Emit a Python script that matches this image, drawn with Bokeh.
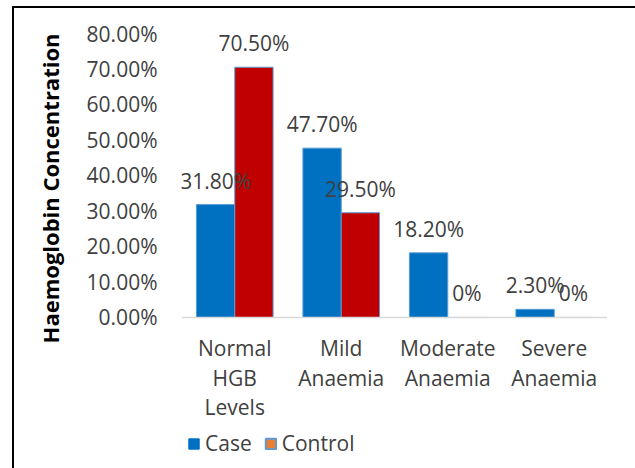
from bokeh.plotting import figure
from bokeh.models import (ColumnDataSource, FactorRange, LabelSet, Legend, LegendItem, Title,
                          FixedTicker, NumeralTickFormatter)
from bokeh.transform import dodge
from bokeh.core.properties import value
from bokeh.embed import file_html
from bokeh.resources import INLINE

categories = ["Normal\nHGB\nLevels", "Mild\nAnaemia", "Moderate\nAnaemia", "Severe\nAnaemia"]
case = [0.318, 0.477, 0.182, 0.023]
control = [0.705, 0.295, 0.0, 0.0]
y_ticks = [0.0, 0.1, 0.2, 0.3, 0.4, 0.5, 0.6, 0.7, 0.8]
y_title = "Haemoglobin Concentration"
series_names = ["Case", "Control"]

def fmt(v):
    return "0%" if v == 0 else f"{v*100:.2f}%"

split = [c.split("\n") for c in categories]
data = dict(cat=categories, case=case, control=control,
            base=[0.0] * len(categories),
            case_lbl=[fmt(v) for v in case],
            control_lbl=[fmt(v) for v in control])
for k in range(3):
    data[f"line{k}"] = [s[k] if k < len(s) else "" for s in split]
src = ColumnDataSource(data)

FONT = "Open Sans"
FS = "21px"
TXT = "#404040"

# frame spans 33..465 px; 0 sits at 317 px (35.5 px per 10%)
p = figure(width=635, height=468, x_range=FactorRange(*categories, range_padding=0),
           y_range=(-0.417, 0.8), output_backend="svg", toolbar_location=None,
           min_border_left=181, min_border_right=28, min_border_top=33, min_border_bottom=3)
p.border_fill_color = None
p.background_fill_color = None
p.styles = {"background": "linear-gradient(#000,#000) 12px 6px / 2px 100% no-repeat, "
                          "linear-gradient(#000,#000) 12px 6px / 100% 2px no-repeat, #fff"}
p.outline_line_color = None
p.xgrid.visible = False
p.ygrid.visible = False

W = 0.36
p.vbar(x=dodge("cat", -0.18, range=p.x_range), top="case", width=W, source=src,
       fill_color="#0070C0", line_color="#5B9BD5", line_width=1)
p.vbar(x=dodge("cat", 0.18, range=p.x_range), top="control", width=W, source=src,
       fill_color="#C00000", line_color="#5B9BD5", line_width=1)

for col, off in (("case_lbl", -0.18), ("control_lbl", 0.18)):
    ycol = "case" if col == "case_lbl" else "control"
    p.add_layout(LabelSet(x=dodge("cat", off, range=p.x_range), y=ycol, text=col, source=src,
                          y_offset=24, text_align="center", text_baseline="middle",
                          text_font=value(FONT), text_font_size=FS, text_color=TXT))

# y axis
ya = p.yaxis[0]
ya.ticker = FixedTicker(ticks=y_ticks)
ya.formatter = NumeralTickFormatter(format="0.00%")
ya.axis_line_color = None
ya.major_tick_line_color = None
ya.minor_tick_line_color = None
ya.major_tick_out = 0
ya.major_tick_in = 0
ya.major_label_standoff = 24
ya.major_label_text_font = FONT
ya.major_label_text_font_size = FS
ya.major_label_text_color = TXT

# x axis: line at 0, category names drawn as centred lines under it
xa = p.xaxis[0]
xa.fixed_location = 0
xa.axis_line_color = "#D9D9D9"
xa.axis_line_width = 1.5
xa.major_tick_line_color = None
xa.minor_tick_line_color = None
xa.major_tick_out = 0
xa.major_tick_in = 0
xa.major_label_standoff = 0
xa.major_label_text_font_size = "1px"
xa.major_label_text_color = None
for k, yoff in enumerate((-31, -61, -90)):
    p.add_layout(LabelSet(x="cat", y="base", text=f"line{k}", source=src, y_offset=yoff,
                          text_align="center", text_baseline="middle",
                          text_font=value(FONT), text_font_size=FS, text_color=TXT))

# y title
p.add_layout(Title(text=y_title, align="right", offset=0, standoff=38,
                   text_font=FONT, text_font_size="22px", text_font_style="bold",
                   text_color="black"), "left")

# legend swatches as in the source (hidden proxy renderers)
e1 = p.vbar(x="cat", top="case", width=W, source=src,
            fill_color="#0070C0", line_color="#0070C0")
e2 = p.vbar(x="cat", top="control", width=W, source=src,
            fill_color="#ED7D31", line_color="#5B9BD5", line_width=2)
e1.visible = False
e2.visible = False
leg = Legend(items=[LegendItem(label=series_names[0], renderers=[e1]),
                    LegendItem(label=series_names[1], renderers=[e2])],
             orientation="horizontal", location=(6, 8),
             glyph_width=13, glyph_height=13, label_standoff=5, spacing=12,
             label_height=21, padding=0, margin=0, border_line_color=None,
             background_fill_alpha=0, inactive_fill_alpha=0,
             label_text_font=FONT, label_text_font_size=FS, label_text_color=TXT)
p.add_layout(leg, "center")

open("out.html", "w").write(file_html(p, INLINE))
